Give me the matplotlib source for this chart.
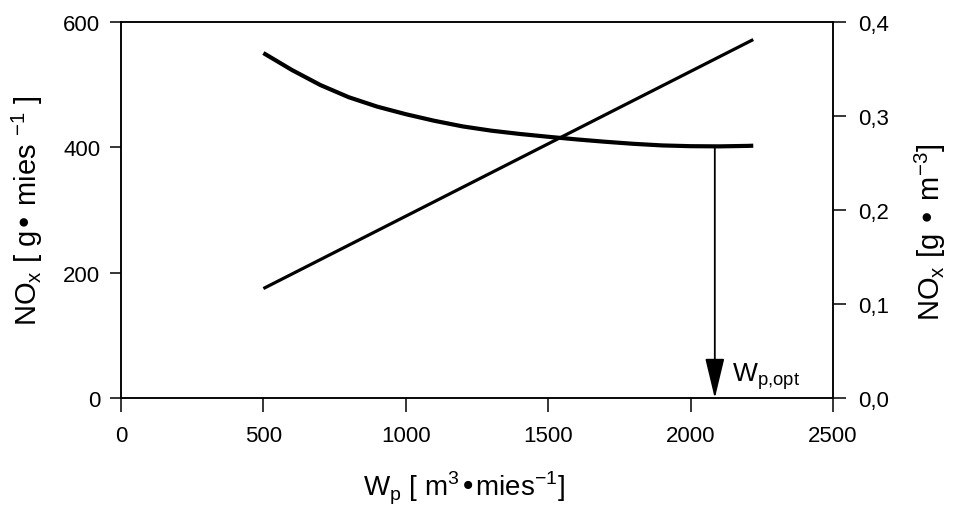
import matplotlib
matplotlib.use("Agg")
from matplotlib import pyplot as plt
from matplotlib.ticker import FuncFormatter

plt.rcParams["font.family"] = ["Liberation Sans", "DejaVu Sans"]

# rising line, left axis NOx [g/mies]
wp_line = [500, 2220]
nox_line = [175, 572]

# falling curve, right axis NOx [g/m3]
wp_curve = [500, 600, 700, 800, 900, 1000, 1100, 1200, 1300, 1400, 1500,
            1600, 1700, 1800, 1900, 2000, 2100, 2200, 2220]
nox_curve = [0.367, 0.349, 0.333, 0.320, 0.310, 0.302, 0.295, 0.289, 0.2845,
             0.2810, 0.2780, 0.2752, 0.2727, 0.2705, 0.2688, 0.2680, 0.2678,
             0.2683, 0.2685]

wp_opt = 2085
nox_opt = 0.268

fig = plt.figure(figsize=(9.54, 5.06), dpi=100)
ax = fig.add_axes([121 / 954, 1 - 399.3 / 506, (833 - 121) / 954, (399.3 - 23) / 506])
ax2 = ax.twinx()

ax.plot(wp_line, nox_line, color="black", lw=2.3, solid_capstyle="butt")
ax2.plot(wp_curve, nox_curve, color="black", lw=3.0, solid_capstyle="butt",
         solid_joinstyle="round")

ax2.annotate(
    "",
    xy=(wp_opt, 0),
    xytext=(wp_opt, nox_opt),
    arrowprops=dict(arrowstyle="-|>,head_length=1.25,head_width=0.3",
                    color="black", lw=1.3, mutation_scale=20, shrinkA=0, shrinkB=0),
)
ax2.text(wp_opt + 60, 0.024, "W$_\\mathregular{p{,}opt}$", fontsize=19, ha="left", va="center")

ax.set_xlim(0, 2500)
ax.set_ylim(0, 600)
ax2.set_ylim(0, 0.4)
ax.set_xticks([0, 500, 1000, 1500, 2000, 2500])
ax.set_yticks([0, 200, 400, 600])
ax2.set_yticks([0, 0.1, 0.2, 0.3, 0.4])
ax2.yaxis.set_major_formatter(FuncFormatter(lambda v, p: f"{v:.1f}".replace(".", ",")))

for a in (ax, ax2):
    for s in a.spines.values():
        s.set_linewidth(1.1)
ax.tick_params(axis="x", direction="out", length=10, width=1.1, pad=9, labelsize=16)
ax.tick_params(axis="y", direction="out", length=8, width=1.1, pad=7, labelsize=16)
ax2.tick_params(axis="y", direction="out", length=9, width=1.1, pad=9, labelsize=16)

fig.text(464 / 954, 1 - 488 / 506, "W$_\\mathregular{p}$ [ m$^\\mathregular{3}$•mies$^\\mathregular{-1}$]",
         fontsize=20, ha="center", va="center")
fig.text(27 / 954, 1 - 211 / 506, "NO$_\\mathregular{x}$ [ g• mies $^\\mathregular{-1}$ ]",
         fontsize=21, ha="center", va="center", rotation=90)
fig.text(930 / 954, 1 - 232 / 506, "NO$_\\mathregular{x}$ [g • m$^\\mathregular{-3}$]",
         fontsize=21, ha="center", va="center", rotation=90)

plt.savefig("out.png", dpi=100)
